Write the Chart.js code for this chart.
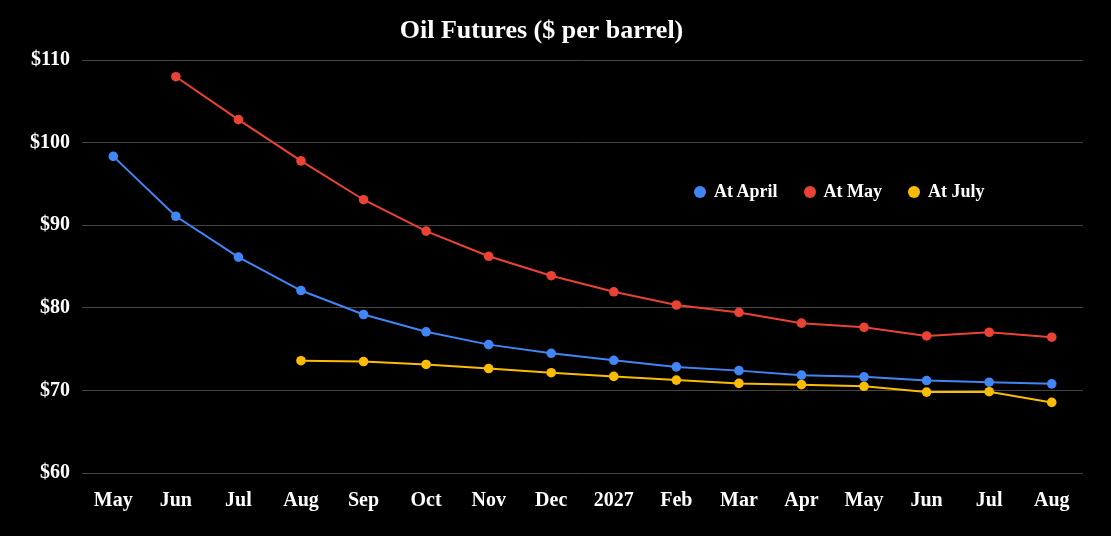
<!DOCTYPE html>
<html>
<head>
<meta charset="utf-8">
<script src="https://cdn.jsdelivr.net/npm/chart.js@4"></script>
<style>
  html,body{margin:0;padding:0;background:#000;}
  #wrap{position:relative;width:1111px;height:536px;}
  #legend{position:absolute;left:694px;top:181px;display:flex;font:bold 18px "Liberation Serif",serif;color:#fff;}
  #legend span.item{display:flex;align-items:center;margin-right:26px;white-space:nowrap;}
  #legend i{display:inline-block;width:12px;height:12px;border-radius:50%;margin-right:8px;}
</style>
</head>
<body>
<div id="wrap">
  <canvas id="c" width="1111" height="536"></canvas>
  <div id="legend"></div>
</div>
<script>
/* ===== Data ===== */
const months = ['May','Jun','Jul','Aug','Sep','Oct','Nov','Dec','2027','Feb','Mar','Apr','May','Jun','Jul','Aug'];
const atApril = [98.35,91.1,86.15,82.1,79.2,77.1,75.55,74.5,73.65,72.85,72.4,71.85,71.65,71.2,71.0,70.8];
const atMay   = [null,108.0,102.8,97.8,93.1,89.3,86.25,83.9,81.95,80.35,79.45,78.15,77.65,76.6,77.05,76.45];
const atJuly  = [null,null,null,73.6,73.5,73.15,72.65,72.15,71.7,71.25,70.85,70.7,70.5,69.8,69.85,68.55];
const seriesNames  = ['At April','At May','At July'];
const seriesColors = ['#4285F4','#EA4335','#FBBC04'];
const yTicks = [60,70,80,90,100,110];

const FONT = '"Liberation Serif", serif';

/* ===== Legend (HTML) ===== */
const leg = document.getElementById('legend');
seriesNames.forEach((n,i)=>{
  const s=document.createElement('span'); s.className='item';
  s.innerHTML=`<i style="background:${seriesColors[i]}"></i>${n}`;
  leg.appendChild(s);
});

/* ===== Chart ===== */
const data = [atApril, atMay, atJuly];
new Chart(document.getElementById('c'),{
  type:'line',
  data:{
    labels:months,
    datasets:data.map((d,i)=>({
      label:seriesNames[i], data:d,
      borderColor:seriesColors[i], backgroundColor:seriesColors[i],
      borderWidth:2, pointRadius:4.8, pointBorderWidth:0, tension:0, spanGaps:false
    }))
  },
  options:{
    responsive:false, animation:false,
    layout:{padding:{left:0,right:28,top:0,bottom:0}},
    plugins:{
      legend:{display:false},
      tooltip:{enabled:false},
      title:{display:true,text:'Oil Futures ($ per barrel)',color:'#fff',
        font:{family:FONT,size:26,weight:'bold'},padding:{top:16,bottom:13}}
    },
    scales:{
      x:{
        offset:true,
        grid:{display:false,drawTicks:false},
        border:{display:false},
        ticks:{color:'#fff',font:{family:FONT,size:20,weight:'bold'},padding:16,maxRotation:0,autoSkip:false},
        afterFit:s=>{s.height=63;}
      },
      y:{
        min:60,max:110,
        afterBuildTicks:s=>{s.ticks=yTicks.map(v=>({value:v}));},
        grid:{color:'#444',drawTicks:false,lineWidth:1},
        border:{display:false},
        ticks:{color:'#fff',font:{family:FONT,size:20,weight:'bold'},padding:12,callback:v=>'$'+v},
        afterFit:s=>{s.width=82;}
      }
    }
  }
});
</script>
</body>
</html>
